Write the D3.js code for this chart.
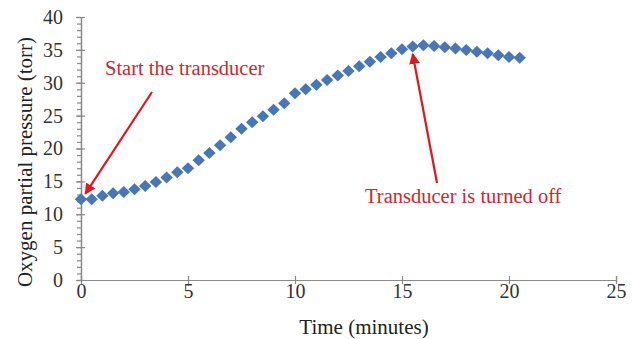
<!DOCTYPE html>
<html>
<head>
<meta charset="utf-8">
<script src="https://cdn.jsdelivr.net/npm/d3@7"></script>
<style>
  body { margin: 0; background: #fff; }
  text { font-family: "Liberation Serif", "Times New Roman", serif; }
</style>
</head>
<body>
<svg id="chart" width="632" height="339"></svg>
<script>
// time in minutes, sampled every half minute
var times = d3.range(0, 21, 0.5);
var pressure = [12.3, 12.3, 12.8, 13.2, 13.4, 13.8, 14.3, 14.9, 15.6, 16.4,
                17.0, 18.2, 19.3, 20.5, 21.7, 23.0, 24.0, 24.9, 25.9, 26.9,
                28.4, 29.0, 29.7, 30.4, 31.1, 31.8, 32.5, 33.2, 33.9, 34.5,
                35.1, 35.5, 35.7, 35.6, 35.4, 35.2, 35.0, 34.7, 34.5, 34.2,
                33.9, 33.8];
var xTicks = [0, 5, 10, 15, 20, 25];
var yTicks = [0, 5, 10, 15, 20, 25, 30, 35, 40];
var notes = [
  {label: "Start the transducer", tx: 105, ty: 75, from: [152, 92], to: [0.2, 12.5]},
  {label: "Transducer is turned off", tx: 365, ty: 203, from: [437, 183], to: [15.5, 35.6]}
];

var svg = d3.select("#chart");
var x = d3.scaleLinear().domain([0, 25]).range([81, 616]);
var y = d3.scaleLinear().domain([0, 40]).range([280, 17]);
var axisColor = "#8a8a8a";

svg.append("defs").append("marker")
  .attr("id", "head")
  .attr("viewBox", "0 0 10 10")
  .attr("refX", 9).attr("refY", 5)
  .attr("markerWidth", 5).attr("markerHeight", 5)
  .attr("orient", "auto")
  .append("path")
  .attr("d", "M0,0 L10,5 L0,10 z")
  .attr("fill", "#e8141c");

// minor ticks first, then the major ones
var gx = svg.append("g").attr("transform", "translate(0," + y(0) + ")");
gx.call(d3.axisTop(x).tickValues(d3.range(0, 26, 1)).tickSize(4).tickFormat(""));
gx.call(d3.axisBottom(x).tickValues(xTicks).tickSize(4).tickFormat(""));
svg.append("g").attr("transform", "translate(0," + y(0) + ")")
  .call(d3.axisTop(x).tickValues(xTicks).tickSize(4).tickFormat(""));
var xl = svg.append("g").attr("transform", "translate(0," + y(0) + ")")
  .call(d3.axisBottom(x).tickValues(xTicks).tickSize(0).tickPadding(4));
xl.select(".domain").remove();

var gy = svg.append("g").attr("transform", "translate(" + x(0) + ",0)");
gy.call(d3.axisLeft(y).tickValues(d3.range(0, 41, 1)).tickSize(4).tickFormat(""));
svg.append("g").attr("transform", "translate(" + x(0) + ",0)")
  .call(d3.axisRight(y).tickValues(yTicks).tickSize(4).tickFormat(""));
var yl = svg.append("g").attr("transform", "translate(" + x(0) + ",0)")
  .call(d3.axisLeft(y).tickValues(yTicks).tickSize(5).tickPadding(13));

svg.selectAll(".domain, .tick line").attr("stroke", axisColor).attr("stroke-width", 1.2);
svg.selectAll(".tick text")
  .style("font-family", "'Liberation Serif', serif")
  .style("font-size", "20px")
  .attr("fill", "#333");

// diamond markers
var diamond = "M0,-6 L6.2,0 L0,6 L-6.2,0 Z";
svg.append("g").selectAll("path").data(pressure).enter()
  .append("path")
  .attr("d", diamond)
  .attr("transform", function(d, i) { return "translate(" + x(times[i]) + "," + y(d) + ")"; })
  .attr("fill", "#4677b8");

// annotations
notes.forEach(function(n) {
  svg.append("line")
    .attr("x1", n.from[0]).attr("y1", n.from[1])
    .attr("x2", x(n.to[0])).attr("y2", y(n.to[1]) + (n.to[1] > 30 ? 8 : -4))
    .attr("stroke", "#e8141c").attr("stroke-width", 2.2)
    .attr("marker-end", "url(#head)");
  svg.append("text")
    .attr("x", n.tx).attr("y", n.ty)
    .attr("fill", "#d42530")
    .style("font-size", "20.5px")
    .text(n.label);
});

// axis titles
svg.append("text")
  .attr("transform", "translate(32,162) rotate(-90)")
  .attr("text-anchor", "middle")
  .attr("fill", "#222")
  .style("font-size", "21px")
  .text("Oxygen partial pressure (torr)");
svg.append("text")
  .attr("x", 364).attr("y", 334)
  .attr("text-anchor", "middle")
  .attr("fill", "#222")
  .style("font-size", "21px")
  .text("Time (minutes)");
</script>
</body>
</html>
